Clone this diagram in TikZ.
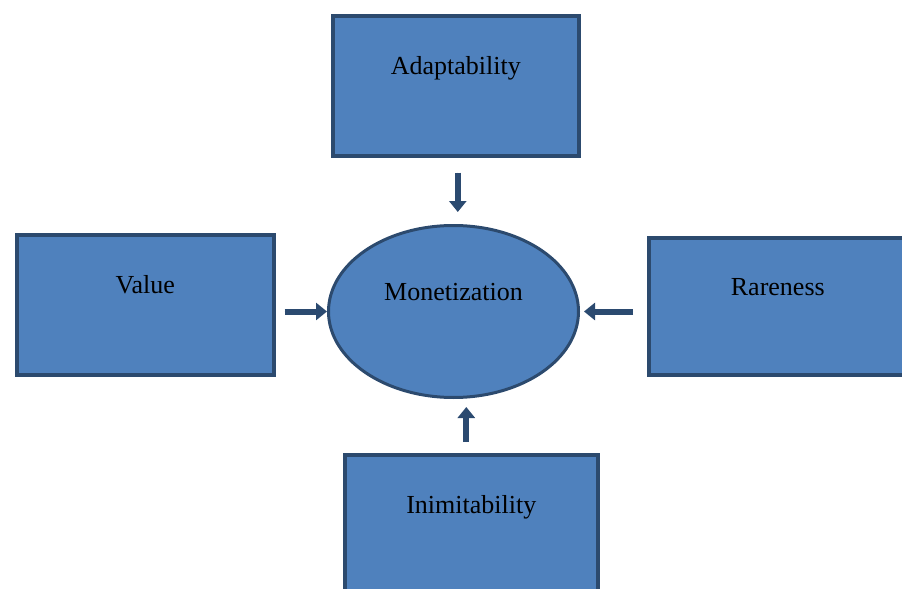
\documentclass[tikz,border=0pt]{standalone}
\usepackage{fontspec}
\setmainfont{Liberation Serif}
\usetikzlibrary{shapes.geometric,arrows.meta}
\definecolor{boxblue}{HTML}{4F81BD}
\definecolor{boxedge}{HTML}{2C4A6E}
\definecolor{arrowblue}{HTML}{2B4A70}

\begin{document}
\begin{tikzpicture}[x=0.5pt,y=-0.5pt]
    \tikzstyle{arrow} = [-{Triangle[width=8.5pt,length=5.5pt]}, line width=3pt,
        draw=arrowblue, fill=arrowblue]
    \tikzstyle{rec} = [rectangle, draw=boxedge, line width=1.8pt, fill=boxblue,
        align=center, font=\fontsize{13}{15}\selectfont,
        text height=8pt, text depth=19pt, inner sep=0pt]
    \tikzstyle{oval} = [ellipse, draw=boxedge, line width=1.5pt, fill=boxblue,
        align=center, font=\fontsize{13}{15}\selectfont,
        text height=8pt, text depth=19.5pt, inner sep=0pt]

    \clip (0,0) rectangle (902,589);

    \node(adapt) [rec, minimum width=123pt, minimum height=70pt]
        at (331,14) [anchor=north west]
        {Adaptability};

    \node(value) [rec, minimum width=128.5pt, minimum height=70pt]
        at (15,233) [anchor=north west]
        {Value};

    \node(rare) [rec, minimum width=129pt, minimum height=68.5pt]
        at (647,236) [anchor=north west]
        {Rareness};

    \node(inimit) [rec, minimum width=126.5pt, minimum height=70pt]
        at (343,453) [anchor=north west]
        {Inimitability};

    \node(money) [oval, minimum width=125pt, minimum height=86pt]
        at (453.5,311.5)
        {Monetization};

    \draw[arrow, shorten <=7.5pt, shorten >=6pt]
        ([xshift=1pt]adapt.south) -- ([xshift=1pt]adapt.south |- money.north);
    \draw[arrow, shorten <=4.5pt, shorten >=0pt]
        (value.east |- money.west) -- (money.west);
    \draw[arrow, shorten <=7pt, shorten >=2pt]
        (rare.west |- money.east) -- (money.east);
    \draw[arrow, shorten <=5.5pt, shorten >=4pt]
        ([xshift=-2.5pt]inimit.north) -- ([xshift=-2.5pt]inimit.north |- money.south);
\end{tikzpicture}
\end{document}
